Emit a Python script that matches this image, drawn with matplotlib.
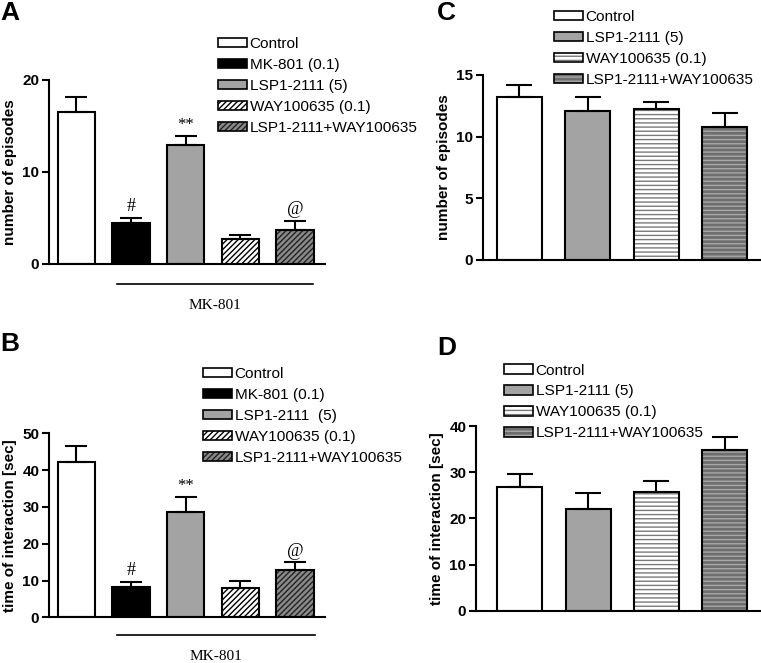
import matplotlib
matplotlib.use("Agg")
import matplotlib.pyplot as plt
from matplotlib.patches import Patch
from matplotlib.lines import Line2D
import matplotlib.transforms as mtransforms

plt.rcParams['font.family'] = ['Liberation Sans', 'DejaVu Sans']
plt.rcParams['hatch.linewidth'] = 1.0

# ---------------- data ----------------
ab_labels = ["Control", "MK-801 (0.1)", "LSP1-2111 (5)", "WAY100635 (0.1)", "LSP1-2111+WAY100635"]
b_labels = ["Control", "MK-801 (0.1)", "LSP1-2111  (5)", "WAY100635 (0.1)", "LSP1-2111+WAY100635"]
cd_labels = ["Control", "LSP1-2111 (5)", "WAY100635 (0.1)", "LSP1-2111+WAY100635"]

A_means = [16.5, 4.5, 12.9, 2.75, 3.7]
A_err = [1.6, 0.5, 1.0, 0.4, 1.0]
B_means = [42.1, 8.15, 28.7, 8.05, 12.85]
B_err = [4.4, 1.45, 4.1, 1.9, 2.1]
C_means = [13.2, 12.05, 12.25, 10.8]
C_err = [1.0, 1.2, 0.55, 1.1]
D_means = [26.85, 22.0, 25.7, 34.9]
D_err = [2.75, 3.5, 2.3, 2.8]

ab_marks = ["", "#", "**", "", "@"]

A_ticks = [0, 10, 20]
B_ticks = [0, 10, 20, 30, 40, 50]
C_ticks = [0, 5, 10, 15]
D_ticks = [0, 10, 20, 30, 40]

# styles: (fill, hatchcolor, hatch)
ab_styles = [("white", "black", None), ("black", "black", None), ("#a3a3a3", "black", None),
             ("white", "black", "//////"), ("#8a8a8a", "#222222", "//////")]
cd_styles = [("white", "black", None), ("#a3a3a3", "black", None),
             ("white", "#7a7a7a", "----"), ("#6e6e6e", "#a8a8a8", "----")]

W, H = 761, 663
fig = plt.figure(figsize=(W / 100, H / 100), dpi=100)


def ax_px(l, t, r, b):
    return fig.add_axes([l / W, 1 - b / H, (r - l) / W, (b - t) / H])


def draw_bars(ax, means, errs, styles, width, capsize):
    for i, (m, e, st) in enumerate(zip(means, errs, styles)):
        fill, hc, hatch = st
        ax.bar(i, m, width, color=fill, edgecolor=hc, hatch=hatch, linewidth=0, zorder=2)
        ax.bar(i, m, width, fill=False, edgecolor="black", linewidth=1.5, zorder=3)
        ax.errorbar(i, m, yerr=[[0], [e]], fmt="none", ecolor="black", elinewidth=1.5,
                    capsize=capsize, capthick=1.5, zorder=4)


def style_axes(ax, ticks, ylabel):
    ax.set_ylim(0, ticks[-1])
    ax.set_yticks(ticks)
    ax.set_xticks([])
    for s in ["top", "right"]:
        ax.spines[s].set_visible(False)
    for s in ["left", "bottom"]:
        ax.spines[s].set_linewidth(1.5)
    ax.tick_params(axis="y", direction="out", length=5, width=1.5, labelsize=11, pad=2)
    for lab in ax.get_yticklabels():
        lab.set_fontweight("bold")
    ax.set_ylabel(ylabel, fontsize=11, fontweight="bold", labelpad=4)
    ax.patch.set_alpha(0)


def add_legend(labels, styles, left_px, top_px):
    handles = []
    for fill, hc, hatch in styles:
        p1 = Patch(facecolor=fill, edgecolor=hc, hatch=hatch, linewidth=0)
        p2 = Patch(fill=False, edgecolor="black", linewidth=1.2)
        handles.append((p1, p2))
    fig.legend(handles, labels, loc="upper left",
               bbox_to_anchor=(left_px / W, 1 - top_px / H), bbox_transform=fig.transFigure,
               frameon=False, fontsize=11.1, handlelength=1.85, handleheight=0.55,
               handletextpad=0.2, labelspacing=0.45, borderpad=0, borderaxespad=0)


def add_marks(ax, means, errs, marks):
    for i, (m, e, t) in enumerate(zip(means, errs, marks)):
        if t:
            ax.annotate(t, (i, m + e), xytext=(0, 2), textcoords="offset points",
                        ha="center", va="bottom", fontsize=13 if t != "**" else 12,
                        family=["Liberation Serif", "DejaVu Serif"])


def add_group_line(ax, x0, x1, yline, ytext):
    trans = mtransforms.blended_transform_factory(ax.transData, ax.transAxes)
    ax.add_line(Line2D([x0, x1], [yline, yline], transform=trans, color="black",
                       linewidth=1.2, clip_on=False))
    ax.text((x0 + x1) / 2, ytext, "MK-801", transform=trans, ha="center", va="center",
            fontsize=11, family=["Liberation Serif", "DejaVu Serif"])


# ---------------- Panel A ----------------
axA = ax_px(49, 80, 325, 264)
draw_bars(axA, A_means, A_err, ab_styles, 0.68, 8)
axA.set_xlim(-0.50, 4.55)
style_axes(axA, A_ticks, "number of episodes")
add_marks(axA, A_means, A_err, ab_marks)
add_group_line(axA, 0.74, 4.33, -0.109, -0.225)
add_legend(ab_labels, ab_styles, 218, 37)

# ---------------- Panel B ----------------
axB = ax_px(49, 433.3, 325, 617.3)
draw_bars(axB, B_means, B_err, ab_styles, 0.68, 8)
axB.set_xlim(-0.50, 4.55)
style_axes(axB, B_ticks, "time of interaction [sec]")
add_marks(axB, B_means, B_err, ab_marks)
add_group_line(axB, 0.74, 4.36, -0.096, -0.212)
add_legend(b_labels, ab_styles, 203, 367)

# ---------------- Panel C ----------------
axC = ax_px(483, 75, 761, 260)
draw_bars(axC, C_means, C_err, cd_styles, 0.66, 9.4)
axC.set_xlim(-0.53, 3.53)
style_axes(axC, C_ticks, "number of episodes")
add_legend(cd_labels, cd_styles, 554, 10)

# ---------------- Panel D ----------------
axD = ax_px(476, 426, 761, 610.7)
draw_bars(axD, D_means, D_err, cd_styles, 0.66, 9.4)
axD.set_xlim(-0.64, 3.53)
style_axes(axD, D_ticks, "time of interaction [sec]")
add_legend(cd_labels, cd_styles, 504, 363.5)

# ---------------- panel letters ----------------
for letter, x, y in [("A", 0, 1), ("B", 0, 332), ("C", 437, 1), ("D", 437, 336)]:
    fig.text(x / W, 1 - y / H, letter, ha="left", va="top", fontsize=19, fontweight="bold")

fig.savefig("out.png", dpi=100)
